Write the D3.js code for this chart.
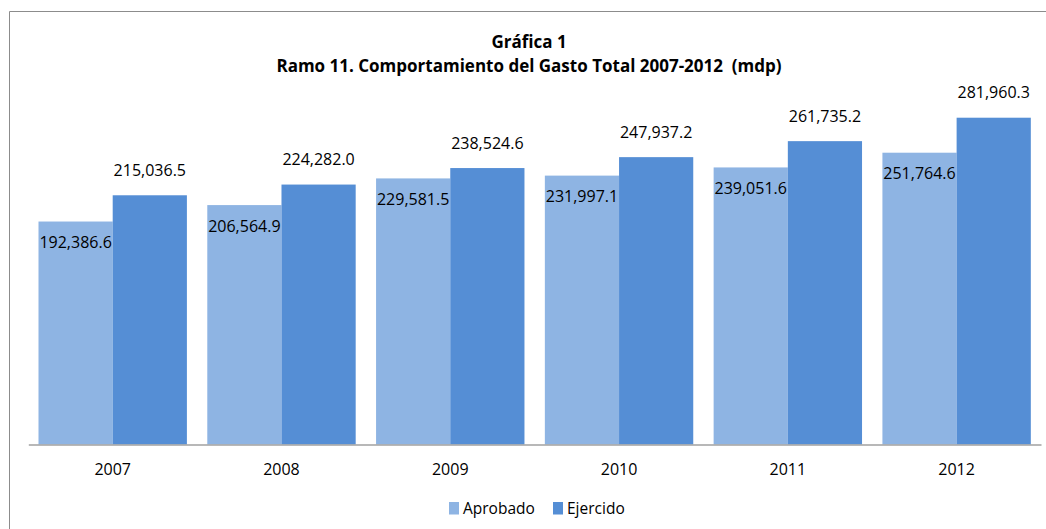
<!DOCTYPE html>
<html>
<head>
<meta charset="utf-8">
<script src="https://cdn.jsdelivr.net/npm/d3@7"></script>
<style>
  body { margin: 0; background: #fff; }
  svg { display: block; font-family: 'Open Sans', sans-serif; }
</style>
</head>
<body>
<div id="chart"></div>
<script>
// data
const years = ['2007', '2008', '2009', '2010', '2011', '2012'];
const seriesNames = ['Aprobado', 'Ejercido'];
const aprobado = [192386.6, 206564.9, 229581.5, 231997.1, 239051.6, 251764.6];
const ejercido = [215036.5, 224282.0, 238524.6, 247937.2, 261735.2, 281960.3];
const colors = ['#8EB4E3', '#558ED5'];
const titleLines = ['Gráfica 1', 'Ramo 11. Comportamiento del Gasto Total 2007-2012  (mdp)'];

const W = 1046, H = 529;
const plot = { left: 28.3, right: 1041, top: 96.8, bottom: 444.5 };

const rows = years.map((y, i) => ({ year: y, values: [aprobado[i], ejercido[i]] }));

const svg = d3.select('#chart').append('svg')
  .attr('width', W)
  .attr('height', H);

// chart frame (left and top edges only visible)
svg.append('path')
  .attr('d', 'M9.5,' + H + 'V11.5H' + W)
  .attr('fill', 'none')
  .attr('stroke', '#8c8c8c')
  .attr('stroke-width', 1);

// title
svg.append('g')
  .selectAll('text')
  .data(titleLines)
  .join('text')
  .attr('x', 529)
  .attr('y', (d, i) => 48 + i * 24)
  .attr('text-anchor', 'middle')
  .attr('font-weight', 'bold')
  .attr('font-size', 17)
  .attr('fill', '#000')
  .style('white-space', 'pre')
  .text(d => d);

// scales
const x0 = d3.scaleBand()
  .domain(years)
  .range([plot.left, plot.right]);

const x1 = d3.scaleBand()
  .domain(seriesNames)
  .range([10.2, 158.6]);

const y = d3.scaleLinear()
  .domain([0, 300000])
  .range([plot.bottom, plot.top]);

// bars
const groups = svg.append('g')
  .selectAll('g')
  .data(rows)
  .join('g')
  .attr('transform', d => 'translate(' + x0(d.year) + ',0)');

groups.selectAll('rect')
  .data(d => d.values.map((v, k) => ({ key: seriesNames[k], k: k, v: v })))
  .join('rect')
  .attr('x', d => x1(d.key))
  .attr('width', x1.bandwidth())
  .attr('y', d => y(d.v))
  .attr('height', d => y(0) - y(d.v))
  .attr('fill', d => colors[d.k]);

// value labels: Aprobado inside below the top, Ejercido above the bar
const fmt = d3.format(',.1f');
groups.selectAll('text')
  .data(d => d.values.map((v, k) => ({ key: seriesNames[k], k: k, v: v })))
  .join('text')
  .attr('x', d => x1(d.key) + x1.bandwidth() / 2)
  .attr('y', d => d.k === 0 ? y(d.v) + 21 : y(d.v) - 25)
  .attr('dy', '0.35em')
  .attr('text-anchor', 'middle')
  .attr('font-size', 16)
  .attr('fill', '#000')
  .text(d => fmt(d.v));

// x axis
const xAxis = d3.axisBottom(x0).tickSize(0).tickPadding(19);
const gx = svg.append('g')
  .attr('transform', 'translate(0,' + plot.bottom + ')')
  .call(xAxis);
gx.select('.domain').attr('stroke', '#a0a0a0').attr('stroke-width', 1.5);
gx.selectAll('text')
  .attr('font-family', "'Open Sans', sans-serif")
  .attr('font-size', 16)
  .attr('fill', '#000');

// legend
const legendX = [449, 553];
const legend = svg.append('g')
  .selectAll('g')
  .data(seriesNames)
  .join('g')
  .attr('transform', (d, i) => 'translate(' + legendX[i] + ',502)');
legend.append('rect')
  .attr('width', 10)
  .attr('height', 12.5)
  .attr('fill', (d, i) => colors[i]);
legend.append('text')
  .attr('x', 14)
  .attr('y', 7)
  .attr('dy', '0.35em')
  .attr('font-size', 15.5)
  .attr('fill', '#000')
  .text(d => d);
</script>
</body>
</html>
